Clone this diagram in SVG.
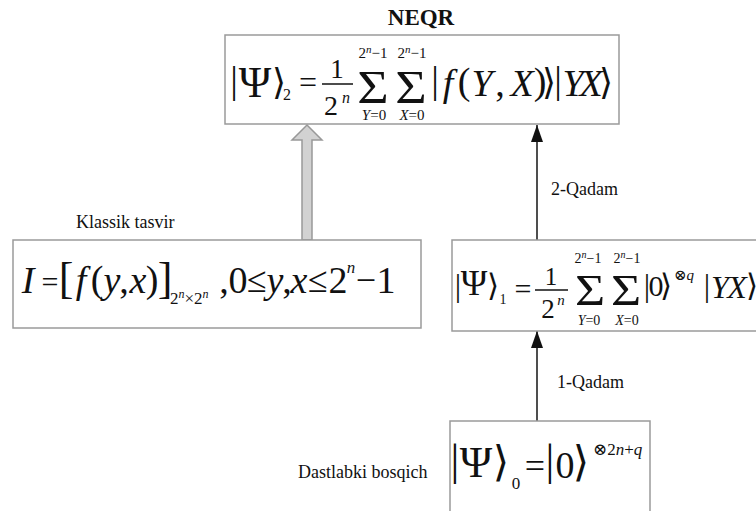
<svg xmlns="http://www.w3.org/2000/svg" width="756" height="511" viewBox="0 0 756 511">
<defs>
<style>
.box{fill:#fff;stroke:#9a9a9a;stroke-width:1.5}
.t{font-family:"Liberation Serif","DejaVu Serif","DejaVu Sans",serif;fill:#111}
.m{font-family:"Liberation Serif","DejaVu Sans",serif;fill:#111;text-anchor:middle}
.i{font-style:italic}
.ab{font-family:"DejaVu Sans","DejaVu Serif",serif;fill:#111;text-anchor:middle}
.lbl{font-family:"Liberation Serif",serif;font-size:18px;fill:#111}
.conn{stroke:#222;stroke-width:1.6;fill:none}
</style>
<marker id="ah" viewBox="0 0 17 12" refX="17" refY="6" markerWidth="17" markerHeight="12" markerUnits="userSpaceOnUse" orient="auto">
<path d="M0,0 L17,6 L0,12 Z" fill="#111"/>
</marker>
</defs>
<rect width="756" height="511" fill="#fff"/>

<g id="connectors">
<polygon points="302,240 302,140 292,140 307,125 322,140 312,140 312,240" fill="#d2d2d2" stroke="#999" stroke-width="1.5"/>
<line class="conn" x1="537" y1="240" x2="537" y2="125" marker-end="url(#ah)"/>
<line class="conn" x1="537" y1="421" x2="537" y2="331" marker-end="url(#ah)"/>
</g>

<g id="title">
<text x="421" y="25" class="t" font-size="23" font-weight="bold" text-anchor="middle">NEQR</text>
</g>

<g id="node-neqr">
<rect class="box" x="225" y="35" width="394" height="89"/>
<text class="m" font-size="38" x="234" y="93">|</text>
<text class="m" font-size="44" x="255" y="97">Ψ</text>
<text class="ab" font-size="36" x="279" y="94">⟩</text>
<text class="m" font-size="16" x="287" y="100">2</text>
<text class="m" font-size="32" x="308" y="93">=</text>
<text class="m" font-size="27" x="337" y="78">1</text>
<line x1="322" y1="84" x2="353" y2="84" stroke="#111" stroke-width="1.5"/>
<text class="m" font-size="28" x="331" y="115">2</text>
<text class="m i" font-size="16" x="346" y="103">n</text>
<text class="m" font-size="47" transform="translate(373,103) scale(1.15,1)">Σ</text>
<text class="m" font-size="15" x="373" y="58">2<tspan class="i" font-size="11" dy="-5">n</tspan><tspan dy="5">−1</tspan></text>
<text class="m" font-size="15" x="374" y="120"><tspan class="i">Y</tspan>=0</text>
<text class="m" font-size="47" transform="translate(411,103) scale(1.15,1)">Σ</text>
<text class="m" font-size="15" x="412" y="58">2<tspan class="i" font-size="11" dy="-5">n</tspan><tspan dy="5">−1</tspan></text>
<text class="m" font-size="15" x="412" y="120"><tspan class="i">X</tspan>=0</text>
<text class="m" font-size="38" x="435" y="93">|</text>
<text class="m i" font-size="38" x="448" y="96">f</text>
<text class="m" font-size="38" x="464" y="94">(</text>
<text class="m i" font-size="38" x="482" y="96">Y</text>
<text class="m" font-size="38" x="500" y="96">,</text>
<text class="m i" font-size="38" x="522" y="96">X</text>
<text class="m" font-size="38" x="540" y="94">)</text>
<text class="ab" font-size="36" x="549" y="94">⟩</text>
<text class="m" font-size="38" x="558" y="93">|</text>
<text class="m i" font-size="38" x="573" y="96">Y</text>
<text class="m i" font-size="38" x="591" y="96">X</text>
<text class="ab" font-size="36" x="606" y="94">⟩</text>
</g>

<g id="node-classic">
<rect class="box" x="13" y="240" width="408" height="88"/>
<text class="m i" font-size="38" x="28" y="293">I</text>
<text class="m" font-size="30" x="50" y="292">=</text>
<text class="m" font-size="44" x="66" y="293">[</text>
<text class="m i" font-size="38" x="81" y="293">f</text>
<text class="m" font-size="38" x="97" y="292">(</text>
<text class="m i" font-size="38" x="112" y="293">y</text>
<text class="m" font-size="38" x="124" y="293">,</text>
<text class="m i" font-size="38" x="138" y="293">x</text>
<text class="m" font-size="38" x="152" y="292">)</text>
<text class="m" font-size="44" x="165" y="293">]</text>
<text class="t" font-size="17" x="170" y="304">2<tspan class="i" font-size="12" dy="-6">n</tspan><tspan dy="6">×2</tspan><tspan class="i" font-size="12" dy="-6">n</tspan></text>
<text class="m" font-size="38" x="224" y="293">,</text>
<text class="m" font-size="38" x="238" y="293">0</text>
<text class="m" font-size="36" x="257" y="292">≤</text>
<text class="m i" font-size="38" x="275" y="293">y</text>
<text class="m" font-size="38" x="287" y="293">,</text>
<text class="m i" font-size="38" x="299" y="293">x</text>
<text class="m" font-size="36" x="318" y="292">≤</text>
<text class="m" font-size="38" x="338" y="293">2</text>
<text class="m i" font-size="17" x="351" y="273">n</text>
<text class="m" font-size="36" x="366" y="292">−</text>
<text class="m" font-size="38" x="386" y="293">1</text>
</g>

<g id="node-psi1">
<rect class="box" x="452" y="240" width="310" height="91"/>
<text class="m" font-size="32" x="458" y="296">|</text>
<text class="m" font-size="36" x="474" y="295">Ψ</text>
<text class="ab" font-size="31" x="493" y="296">⟩</text>
<text class="m" font-size="14" x="503" y="304">1</text>
<text class="m" font-size="30" x="523" y="299">=</text>
<text class="m" font-size="25" x="551" y="285">1</text>
<line x1="535" y1="290" x2="568" y2="290" stroke="#111" stroke-width="1.5"/>
<text class="m" font-size="27" x="548" y="318">2</text>
<text class="m i" font-size="15" x="561" y="305">n</text>
<text class="m" font-size="45" transform="translate(590,305) scale(1.15,1)">Σ</text>
<text class="m" font-size="14" x="588" y="263">2<tspan class="i" font-size="10" dy="-5">n</tspan><tspan dy="5">−1</tspan></text>
<text class="m" font-size="14" x="589" y="325"><tspan class="i">Y</tspan>=0</text>
<text class="m" font-size="45" transform="translate(626,305) scale(1.15,1)">Σ</text>
<text class="m" font-size="14" x="627" y="263">2<tspan class="i" font-size="10" dy="-5">n</tspan><tspan dy="5">−1</tspan></text>
<text class="m" font-size="14" x="627" y="325"><tspan class="i">X</tspan>=0</text>
<text class="m" font-size="32" x="647" y="296">|</text>
<text class="m" font-size="30" x="656" y="296">0</text>
<text class="ab" font-size="31" x="666" y="296">⟩</text>
<text class="t" font-size="15" x="674" y="280">⊗<tspan class="i">q</tspan></text>
<text class="m" font-size="32" x="707" y="296">|</text>
<text class="m i" font-size="32" x="720" y="298">Y</text>
<text class="m i" font-size="32" x="737" y="298">X</text>
<text class="ab" font-size="31" x="752" y="296">⟩</text>
</g>

<g id="node-psi0">
<rect class="box" x="450" y="421" width="200" height="95"/>
<text class="m" font-size="44" x="455" y="475">|</text>
<text class="m" font-size="44" x="476" y="477">Ψ</text>
<text class="ab" font-size="42" x="501" y="476">⟩</text>
<text class="m" font-size="17" x="516" y="489">0</text>
<text class="m" font-size="36" x="535" y="478">=</text>
<text class="m" font-size="44" x="550" y="475">|</text>
<text class="m" font-size="38" x="565" y="478">0</text>
<text class="ab" font-size="42" x="581" y="476">⟩</text>
<text class="t" font-size="17" x="593" y="455">⊗2<tspan class="i">n</tspan>+<tspan class="i">q</tspan></text>
</g>

<g id="labels">
<text class="lbl" x="76" y="228">Klassik tasvir</text>
<text class="lbl" x="551" y="195">2-Qadam</text>
<text class="lbl" x="557" y="388">1-Qadam</text>
<text class="lbl" x="298" y="478">Dastlabki bosqich</text>
</g>
</svg>
